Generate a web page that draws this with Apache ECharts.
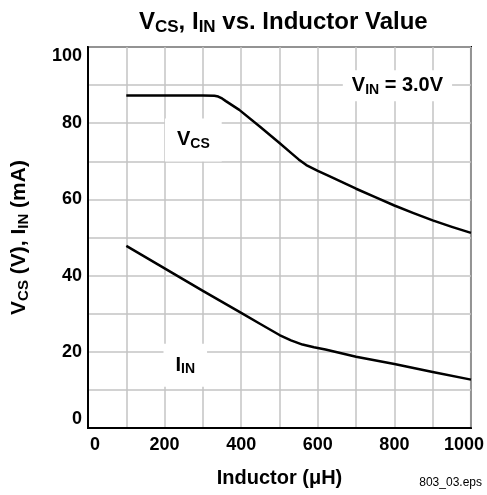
<!DOCTYPE html>
<html>
<head>
<meta charset="utf-8">
<script src="https://cdn.jsdelivr.net/npm/echarts@6/dist/echarts.min.js"></script>
<style>html,body{margin:0;padding:0;background:#fff}#c{width:487px;height:495px}</style>
</head>
<body>
<div id="c"></div>
<script>
// ---- data ----
const vcsInductor = [100, 200, 300, 330, 340, 350, 360, 375, 395, 450, 500, 530, 550, 570, 600, 630, 700, 750, 800, 850, 900, 950, 1000];
const vcsValues   = [87.3, 87.3, 87.3, 87.2, 87.0, 86.5, 85.8, 84.8, 83.5, 79.0, 74.8, 72.2, 70.5, 69.0, 67.5, 66.1, 62.8, 60.6, 58.4, 56.4, 54.5, 52.8, 51.2];
const iinInductor = [100, 200, 300, 400, 450, 500, 530, 560, 590, 620, 700, 800, 900, 1000];
const iinValues   = [47.8, 41.9, 36.0, 30.2, 27.3, 24.4, 23.0, 21.9, 21.2, 20.6, 18.7, 16.8, 14.7, 12.7];
const xTicks = [0, 200, 400, 600, 800, 1000];
const yTicks = [0, 20, 40, 60, 80, 100];
// annotation anchors (data coordinates) and texts
const noteX = [808, 275, 254];
const noteY = [89.8, 75.6, 16.5];
const noteText = ['{m|V}{s|IN}{m| = 3.0V}', '{m|V}{s|CS}', '{m|I}{s|IN}'];

const F = '"Liberation Sans", Arial, Helvetica, sans-serif';
const chart = echarts.init(document.getElementById('c'), null, {renderer: 'canvas'});

function sub(main, s, pad) {
  return {
    m: {fontFamily: F, fontWeight: 'bold', fontSize: main, color: '#000'},
    s: {fontFamily: F, fontWeight: 'bold', fontSize: s, color: '#000', padding: [pad, 0, 0, 0]}
  };
}

const gridColor = '#c4c4c4';

chart.setOption({
  animation: false,
  backgroundColor: '#fff',
  title: {
    left: 134, top: 3,
    text: '{m|V}{s|CS}{m|, I}{s|IN}{m| vs. Inductor Value}',
    textStyle: {rich: sub(24, 17, 11)}
  },
  grid: {left: 88, top: 47, right: 15, bottom: 67, show: true, borderColor: '#000', borderWidth: 2, backgroundColor: 'transparent'},
  xAxis: {
    type: 'value', min: xTicks[0], max: xTicks[xTicks.length - 1], interval: xTicks[1] - xTicks[0],
    name: 'Inductor (\u03bcH)', nameLocation: 'middle', nameGap: 40,
    nameTextStyle: {fontFamily: F, fontWeight: 'bold', fontSize: 20, color: '#000'},
    axisLine: {show: true, lineStyle: {color: '#000', width: 2}},
    axisTick: {show: false},
    axisLabel: {
      margin: 8, color: '#000', fontFamily: F, fontWeight: 'bold', fontSize: 18,
      formatter: function (v) {
        if (v === xTicks[0]) return '{l|' + v + '}';
        if (v === xTicks[xTicks.length - 1]) return '{r|' + v + '}';
        return '{n|' + v + '}';
      },
      rich: {
        n: {fontFamily: F, fontWeight: 'bold', fontSize: 18, color: '#000'},
        l: {fontFamily: F, fontWeight: 'bold', fontSize: 18, color: '#000', padding: [0, 0, 0, 14]},
        r: {fontFamily: F, fontWeight: 'bold', fontSize: 18, color: '#000', padding: [0, 14, 0, 0]}
      }
    },
    splitLine: {show: true, lineStyle: {color: gridColor, width: 1.5}},
    minorTick: {show: false, splitNumber: 2},
    minorSplitLine: {show: true, lineStyle: {color: gridColor, width: 1.5}}
  },
  yAxis: {
    type: 'value', min: yTicks[0], max: yTicks[yTicks.length - 1], interval: yTicks[1] - yTicks[0],
    name: '{m|V}{s|CS}{m| (V), I}{s|IN}{m| (mA)}', nameLocation: 'middle', nameGap: 57, nameRotate: 90,
    nameTextStyle: {rich: sub(21, 15, 9)},
    axisLine: {show: true, lineStyle: {color: '#000', width: 2}},
    axisTick: {show: false},
    axisLabel: {
      margin: 6, color: '#000', fontFamily: F, fontWeight: 'bold', fontSize: 18,
      verticalAlignMinLabel: 'bottom', verticalAlignMaxLabel: 'top'
    },
    splitLine: {show: true, lineStyle: {color: gridColor, width: 1.5}},
    minorTick: {show: false, splitNumber: 2},
    minorSplitLine: {show: true, lineStyle: {color: gridColor, width: 1.5}}
  },
  series: [
    {
      name: 'VCS', type: 'line', data: vcsInductor.map((x, i) => [x, vcsValues[i]]),
      showSymbol: false, smooth: false,
      lineStyle: {color: '#000', width: 2.5, join: 'round'}, z: 3
    },
    {
      name: 'IIN', type: 'line', data: iinInductor.map((x, i) => [x, iinValues[i]]),
      showSymbol: false, smooth: false,
      lineStyle: {color: '#000', width: 2.5, join: 'round'}, z: 3
    },
    {
      name: 'notes', type: 'scatter', symbolSize: 0, silent: true, z: 4,
      itemStyle: {opacity: 1},
      data: noteX.map((x, i) => ({
        value: [x, noteY[i]],
        label: {
          show: true, position: 'inside', formatter: noteText[i],
          backgroundColor: '#fff', textBorderWidth: 0, opacity: 1,
          padding: i === 0 ? [4, 9, 4, 9] : [10, 12, 10, 12],
          rich: sub(20, 14, 9)
        }
      }))
    }
  ],
  graphic: [{
    type: 'text', right: 5, top: 477,
    style: {text: '803_03.eps', fontFamily: F, fontSize: 12, fill: '#000'}
  }]
});
</script>
</body>
</html>
